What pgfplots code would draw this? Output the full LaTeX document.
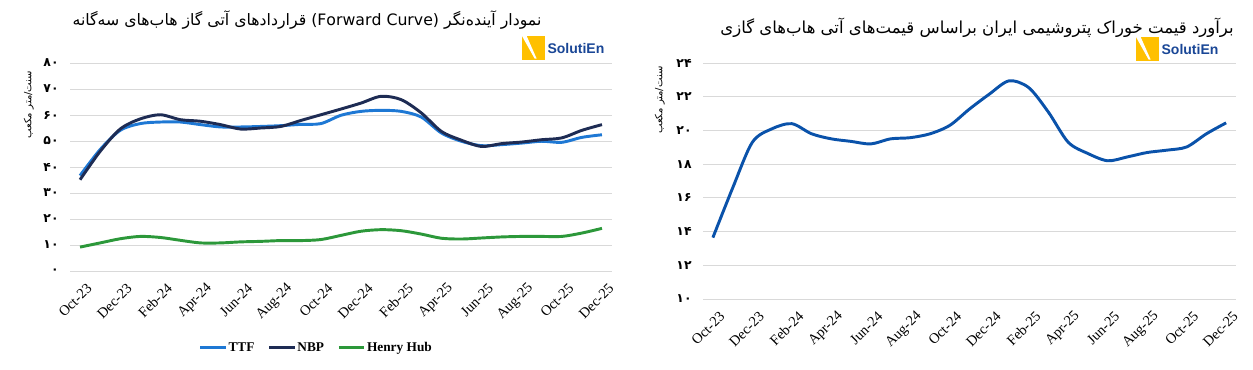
\documentclass[border=0pt]{standalone}
\usepackage{fontspec}
\setmainfont{Liberation Serif}
\newfontfamily\arabicfont[Script=Arabic]{DejaVu Sans}
\newfontfamily\logofont{Liberation Sans}
\TeXXeTstate=1
\usepackage{pgfplots}
\usepackage{pgfplotstable}
\pgfplotsset{compat=1.18}
\definecolor{ttfc}{RGB}{30,120,212}
\definecolor{nbpc}{RGB}{30,44,84}
\definecolor{hhc}{RGB}{44,152,58}
\definecolor{iranc}{RGB}{10,82,170}
\definecolor{gridc}{RGB}{217,217,217}
\definecolor{logoy}{RGB}{255,192,0}
\definecolor{logob}{RGB}{25,70,150}

\pgfplotstableread{
i ttf nbp hh iran
0 36.7 35.1 9.2 13.64
1 46.7 46.0 10.8 16.58
2 54.1 54.6 12.4 19.30
3 56.7 58.5 13.3 20.10
4 57.3 60.1 12.9 20.40
5 57.3 58.2 11.8 19.80
6 56.3 57.6 10.8 19.50
7 55.4 56.3 10.8 19.35
8 55.4 54.6 11.2 19.20
9 55.6 55.0 11.4 19.50
10 55.9 55.6 11.7 19.57
11 56.4 57.9 11.7 19.80
12 56.7 60.1 12.1 20.30
13 59.9 62.3 13.7 21.27
14 61.4 64.6 15.3 22.15
15 61.8 67.2 15.9 22.94
16 61.4 65.9 15.5 22.54
17 59.2 60.8 14.2 21.08
18 53.1 53.7 12.6 19.30
19 49.9 50.3 12.3 18.63
20 48.2 47.9 12.7 18.20
21 48.6 49.0 13.1 18.43
22 49.2 49.6 13.3 18.69
23 49.9 50.5 13.3 18.83
24 49.5 51.2 13.3 19.02
25 51.4 54.1 14.6 19.80
26 52.4 56.3 16.4 20.45
}\data

\pgfplotsset{mystyle/.style={
  scale only axis, xmin=-0.5, xmax=26.5,
  axis line style={draw=none}, tick style={draw=none},
  major tick length=0pt,
  ymajorgrids, grid style={draw=gridc, line width=0.75pt},
  xtick={0,2,...,26},
  xticklabels={Oct-23,Dec-23,Feb-24,Apr-24,Jun-24,Aug-24,Oct-24,Dec-24,Feb-25,Apr-25,Jun-25,Aug-25,Oct-25,Dec-25},
  xticklabel style={rotate=45, anchor=east, inner sep=1pt, xshift=-2pt, yshift=-13pt, font=\fontsize{10.8}{12}\selectfont},
  yticklabel style={font={\arabicfont\bfseries\fontsize{9.3}{11}\selectfont}, xshift=-5pt},
  clip=false,
  every axis plot/.append style={line width=2.2pt, smooth, tension=0.5, no markers},
}}

\begin{document}
\begin{tikzpicture}
\useasboundingbox (0,0) rectangle (939.75pt,276.75pt);

% titles
\node[font={\arabicfont\fontsize{11.8}{14}\selectfont}, inner sep=0pt] at (230.25pt,261.75pt)
  {\beginR نمودار آینده‌نگر \beginL(Forward Curve)\endL{} قراردادهای آتی گاز هاب‌های سه‌گانه\endR};
\node[font={\arabicfont\fontsize{12.4}{14}\selectfont}, inner sep=0pt] at (732.75pt,255.75pt)
  {\beginR برآورد قیمت خوراک پتروشیمی ایران براساس قیمت‌های آتی هاب‌های گازی\endR};

% logos
\foreach \lx/\ly in {391.5pt/231.75pt, 852pt/231pt}{
  \fill[logoy] (\lx,\ly) rectangle ++(17.25pt,18pt);
  \fill[white] (\lx,\ly) ++(0pt,18pt) -- ++(3.5pt,0pt) -- ++(7.5pt,-17pt) -- ++(-1.5pt,0pt) -- cycle;
  \node[anchor=west, inner sep=0pt, text=logob, font={\logofont\bfseries\fontsize{10.5}{12}\selectfont}] at ([xshift=19pt,yshift=9pt]\lx,\ly) {SolutiEn};
}

\begin{axis}[mystyle,
  at={(52.5pt,73.5pt)}, anchor=south west,
  width=406.5pt, height=156pt,
  ymin=0, ymax=80, ytick={0,10,...,80},
  yticklabels={۰,۱۰,۲۰,۳۰,۴۰,۵۰,۶۰,۷۰,۸۰},
  legend columns=3,
  legend style={at={(0.454,-0.37)}, anchor=center, draw=none, fill=none,
    font=\bfseries\fontsize{10}{12}\selectfont, column sep=0pt,
    /tikz/every even column/.append style={column sep=9pt},
    /tikz/every node/.append style={inner sep=1pt}},
  legend image code/.code={\draw[#1, line width=2.2pt] (0pt,0pt) -- (19pt,0pt);},
]
\addplot[ttfc] table[x=i,y=ttf]{\data};
\addlegendentry{TTF}
\addplot[nbpc] table[x=i,y=nbp]{\data};
\addlegendentry{NBP}
\addplot[hhc] table[x=i,y=hh]{\data};
\addlegendentry{Henry Hub}
\node[rotate=90, font={\arabicfont\fontsize{7.5}{8}\selectfont}, inner sep=0pt] at (rel axis cs:-0.076,0.80) {\beginR سنت/متر مکعب\endR};
\end{axis}

\begin{axis}[mystyle,
  at={(527.25pt,52.5pt)}, anchor=south west,
  width=399.75pt, height=177pt,
  ymin=10, ymax=24, ytick={10,12,...,24},
  yticklabels={۱۰,۱۲,۱۴,۱۶,۱۸,۲۰,۲۲,۲۴},
]
\addplot[iranc] table[x=i,y=iran]{\data};
\node[rotate=90, font={\arabicfont\fontsize{7.5}{8}\selectfont}, inner sep=0pt] at (rel axis cs:-0.081,0.843) {\beginR سنت/متر مکعب\endR};
\end{axis}
\end{tikzpicture}
\end{document}
